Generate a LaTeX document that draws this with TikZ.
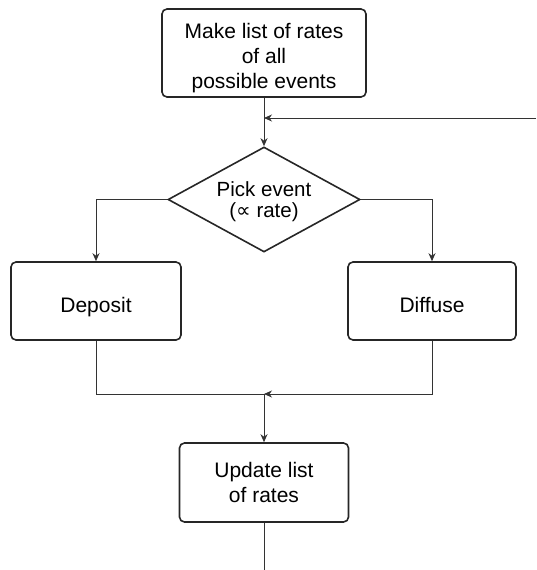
\documentclass[tikz,border=0pt]{standalone}
\usepackage{fontspec}
\setmainfont{Liberation Sans}
\newfontfamily\symfont{DejaVu Sans}
\usetikzlibrary{shapes.geometric, arrows.meta}

\tikzset{
  box/.style={draw=black!85, line width=1.6pt, rounded corners=5pt, align=center,
    inner sep=0pt, font=\fontsize{21}{25}\selectfont},
  choice/.style={draw=black!85, line width=1.6pt, diamond, aspect=1.83, align=center,
    inner sep=0pt, font=\fontsize{20.5}{21}\selectfont},
  link/.style={draw=black!80, line width=0.9pt},
  arrow/.style={link, -{Stealth[length=8pt, width=7pt, inset=2.5pt]}},
}

\begin{document}
\begin{tikzpicture}[x=1pt, y=-1pt]
        % Columns of the chart (in px of the page)
        \pgfmathsetmacro{\midX}{264}
        \pgfmathsetmacro{\leftX}{96}
        \pgfmathsetmacro{\rightX}{432}

        % Fix the page size
        \useasboundingbox (0,0) rectangle (536,570);

        % Boxes (the rules push the text a bit lower, as in the original)
        \node[box, minimum width=204pt, minimum height=88pt] (make) at (\midX,53)
          {\rule{0pt}{26pt}Make list of rates\\of all\\possible events};
        \node[choice, minimum width=192pt, minimum height=105pt] (pick) at (\midX,199.5)
          {\rule{0pt}{19pt}Pick event\\({\symfont ∝} rate)};
        \node[box, minimum width=170pt, minimum height=78pt] (deposit) at (\leftX,301)
          {\rule[-5pt]{0pt}{33pt}Deposit};
        \node[box, minimum width=168pt, minimum height=78pt] (diffuse) at (\rightX,301)
          {\rule[-5pt]{0pt}{33pt}Diffuse};
        \node[box, minimum width=169pt, minimum height=79pt] (update) at (\midX,482.5)
          {Update list\\of rates};

        % Junctions and loose ends
        \coordinate (loop) at (536,118);
        \coordinate (j1) at (\midX,118);
        \coordinate (j2) at (\midX,394);
        \coordinate (out) at (\midX,570);

        % Connectors
        \draw[arrow] (make) -- (pick);
        \draw[arrow] (loop) -- (j1);
        \draw[arrow] (pick.west) -| (deposit.north);
        \draw[arrow] (pick.east) -| (diffuse.north);
        \draw[link] (deposit.south) |- (j2);
        \draw[arrow] (diffuse.south) |- (j2);
        \draw[arrow] (j2) -- (update);
        \draw[link] (update) -- (out);
    \end{tikzpicture}
\end{document}
